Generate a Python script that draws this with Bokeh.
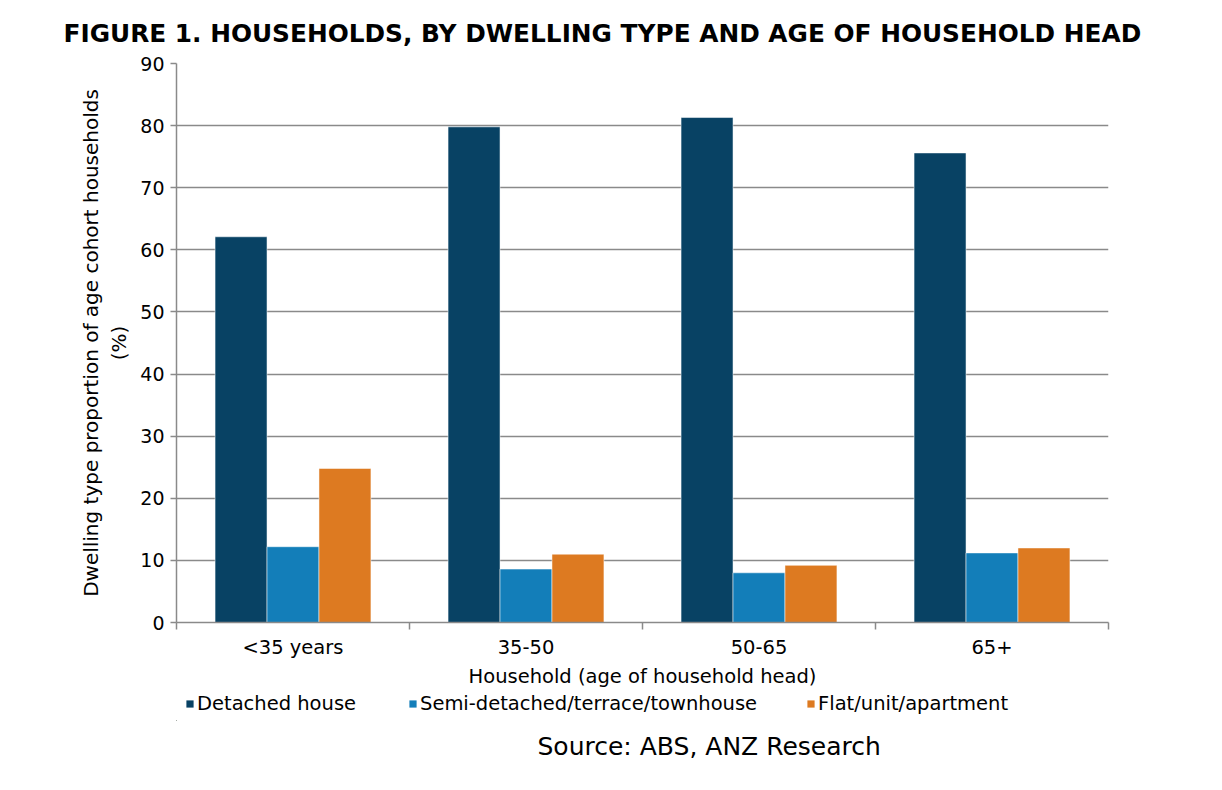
from bokeh.plotting import figure
from bokeh.layouts import column
from bokeh.models import (ColumnDataSource, Range1d, FixedTicker, Legend, LegendItem, Title)
from bokeh.transform import dodge
from bokeh.embed import file_html
from bokeh.resources import INLINE

categories = ["<35 years", "35-50", "50-65", "65+"]
detached = [62.1, 79.8, 81.3, 75.6]
semi = [12.2, 8.6, 8.0, 11.2]
flat = [24.8, 11.0, 9.2, 12.0]
series_names = ["Detached house", "Semi-detached/terrace/townhouse", "Flat/unit/apartment"]
colors = ["#084264", "#137EB9", "#DD7A21"]
y_ticks = list(range(0, 100, 10))

FONT = "DejaVu Sans"

pos = [i + 0.5 for i in range(len(categories))]
src = ColumnDataSource(dict(x=pos, detached=detached, semi=semi, flat=flat))

p = figure(frame_width=932, frame_height=559, output_backend="svg", toolbar_location=None,
           x_range=Range1d(0, len(categories)), y_range=Range1d(0, 90),
           min_border_left=176, min_border_right=98, min_border_top=63, min_border_bottom=66)
p.outline_line_color = None
p.background_fill_color = "white"

bw = 0.223
renderers = []
for off, key, col in zip([-bw, 0, bw], ["detached", "semi", "flat"], colors):
    r = p.vbar(x=dodge("x", off, range=p.x_range), top=key, width=bw, bottom=0,
               source=src, fill_color=col, line_color="white", line_alpha=0.5, line_width=1)
    renderers.append(r)

# y axis
p.yaxis.ticker = FixedTicker(ticks=y_ticks, minor_ticks=[])
p.yaxis.axis_line_color = "#8a8a8a"
p.yaxis.axis_line_width = 1.5
p.yaxis.major_tick_line_color = "#8a8a8a"
p.yaxis.major_tick_line_width = 1.5
p.yaxis.major_tick_out = 6
p.yaxis.major_tick_in = 0
p.yaxis.major_label_text_font = FONT
p.yaxis.major_label_text_font_size = "19px"
p.yaxis.major_label_text_color = "black"
p.yaxis.major_label_standoff = 6
p.yaxis.axis_label = "Dwelling type proportion of age cohort households\n(%)"
p.yaxis.axis_label_text_font = FONT
p.yaxis.axis_label_text_font_size = "20px"
p.yaxis.axis_label_text_font_style = "normal"
p.yaxis.axis_label_text_color = "black"
p.yaxis.axis_label_standoff = 6

# x axis
p.xaxis.ticker = FixedTicker(ticks=pos, minor_ticks=list(range(len(categories) + 1)))
p.xaxis.major_label_overrides = {pp: c for pp, c in zip(pos, categories)}
p.xaxis.major_tick_line_color = None
p.xaxis.minor_tick_line_color = "#8a8a8a"
p.xaxis.minor_tick_line_width = 1.5
p.xaxis.minor_tick_out = 7
p.xaxis.minor_tick_in = 0
p.xaxis.axis_line_color = "#8a8a8a"
p.xaxis.axis_line_width = 1.5
p.xaxis.major_label_text_font = FONT
p.xaxis.major_label_text_font_size = "19.5px"
p.xaxis.major_label_text_color = "black"
p.xaxis.major_label_standoff = 6
p.xaxis.axis_label = "Household (age of household head)"
p.xaxis.axis_label_text_font = FONT
p.xaxis.axis_label_text_font_size = "19.5px"
p.xaxis.axis_label_text_font_style = "normal"
p.xaxis.axis_label_text_color = "black"
p.xaxis.axis_label_standoff = 3

p.xgrid.grid_line_color = None
p.ygrid.ticker = FixedTicker(ticks=y_ticks)
p.ygrid.grid_line_color = "#8a8a8a"
p.ygrid.grid_line_width = 1.5

p.title.text = "FIGURE 1. HOUSEHOLDS, BY DWELLING TYPE AND AGE OF HOUSEHOLD HEAD"
p.title.text_font = FONT
p.title.text_font_size = "24.8px"
p.title.text_font_style = "bold"
p.title.align = "left"
p.title.offset = -113
p.title.standoff = 32
p.title.text_color = "black"

# legend strip + source note underneath the chart
leg = figure(frame_width=1206, frame_height=30, output_backend="svg", toolbar_location=None,
             x_range=Range1d(10, 11), y_range=Range1d(10, 11), x_axis_type=None, y_axis_type=None,
             min_border_left=0, min_border_right=0, min_border_top=0, min_border_bottom=0)
leg.outline_line_color = None
legend_x = [185, 408, 806]
for n, key, col, lx in zip(series_names, ["detached", "semi", "flat"], colors, legend_x):
    # zero-size, out-of-view copy of the series, used only as the legend swatch
    swatch = leg.vbar(x="x", top=0, bottom=0, width=0, source=src,
                      fill_color=col, line_color=None)
    lg = Legend(items=[LegendItem(label=n, renderers=[swatch])], location=(lx, 5),
                glyph_width=9, glyph_height=9, label_standoff=3,
                padding=0, margin=0, border_line_color=None, background_fill_alpha=0,
                label_text_font=FONT, label_text_font_size="19.5px", label_text_color="black")
    leg.add_layout(lg, "center")

src_title = Title(text="Source: ABS, ANZ Research", align="left", offset=361,
                  text_font=FONT, text_font_size="25px", text_font_style="normal",
                  text_color="black", standoff=19)
leg.add_layout(src_title, "below")

layout = column(p, leg, spacing=0)
open("out.html", "w").write(file_html(layout, INLINE))
